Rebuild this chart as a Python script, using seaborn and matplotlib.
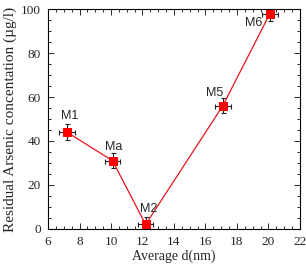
import numpy as np
import pandas as pd
import seaborn as sns
from matplotlib import pyplot as plt
from matplotlib.ticker import MultipleLocator

samples = ['M1', 'Ma', 'M2', 'M5', 'M6']
size_nm = [7.2, 10.1, 12.2, 17.1, 20.1]
arsenic = [44, 31, 2, 56, 98]
size_err = [0.5, 0.5, 0.5, 0.5, 0.5]
arsenic_err = [3.5, 3.5, 3.5, 3.5, 3.5]

df = pd.DataFrame({'sample': samples, 'd': size_nm, 'As': arsenic,
                   'xerr': size_err, 'yerr': arsenic_err})

sns.set_style('ticks')
plt.rcParams['font.family'] = ['Liberation Serif', 'DejaVu Serif']

fig = plt.figure(figsize=(3.06, 2.68), dpi=100)
ax = fig.add_axes([0.157, 0.146, 0.823, 0.820])

ax.errorbar(df['d'], df['As'], xerr=df['xerr'], yerr=df['yerr'], fmt='none',
            ecolor='#222222', elinewidth=0.8, capsize=1.8, capthick=0.8, zorder=2)
sns.lineplot(data=df, x='d', y='As', color='#e8141c', linewidth=0.9, sort=False,
             marker='s', markersize=5.5, markeredgecolor='#ff0000',
             markerfacecolor='#ff0000', ax=ax, zorder=3)

# label offsets (points)
offsets = {'M1': (2, 12), 'Ma': (1, 10), 'M2': (2, 11), 'M5': (-6, 9.5), 'M6': (-12, -7)}
for s, x, y in zip(df['sample'], df['d'], df['As']):
    dx, dy = offsets[s]
    ax.annotate(s, (x, y), xytext=(dx, dy), textcoords='offset points',
                fontsize=9, family=['Liberation Sans', 'DejaVu Sans'],
                ha='center', va='center')

ax.set_xlim(6, 22)
ax.set_ylim(0, 100)
ax.xaxis.set_major_locator(MultipleLocator(2))
ax.xaxis.set_minor_locator(MultipleLocator(0.5))
ax.yaxis.set_major_locator(MultipleLocator(20))
ax.yaxis.set_minor_locator(MultipleLocator(5))
ax.tick_params(which='both', direction='in', top=True, right=True,
               width=0.7, labelsize=9.5, pad=5)
ax.tick_params(which='major', length=4)
ax.tick_params(which='minor', length=2)
for sp in ax.spines.values():
    sp.set_linewidth(0.8)
    sp.set_color('black')

ax.set_xlabel('Average d(nm)', fontsize=10, labelpad=1)
ax.set_ylabel('Residual Arsenic concentation (\u00b5g/l)', fontsize=11, labelpad=3)

fig.savefig('out.png', dpi=100)
